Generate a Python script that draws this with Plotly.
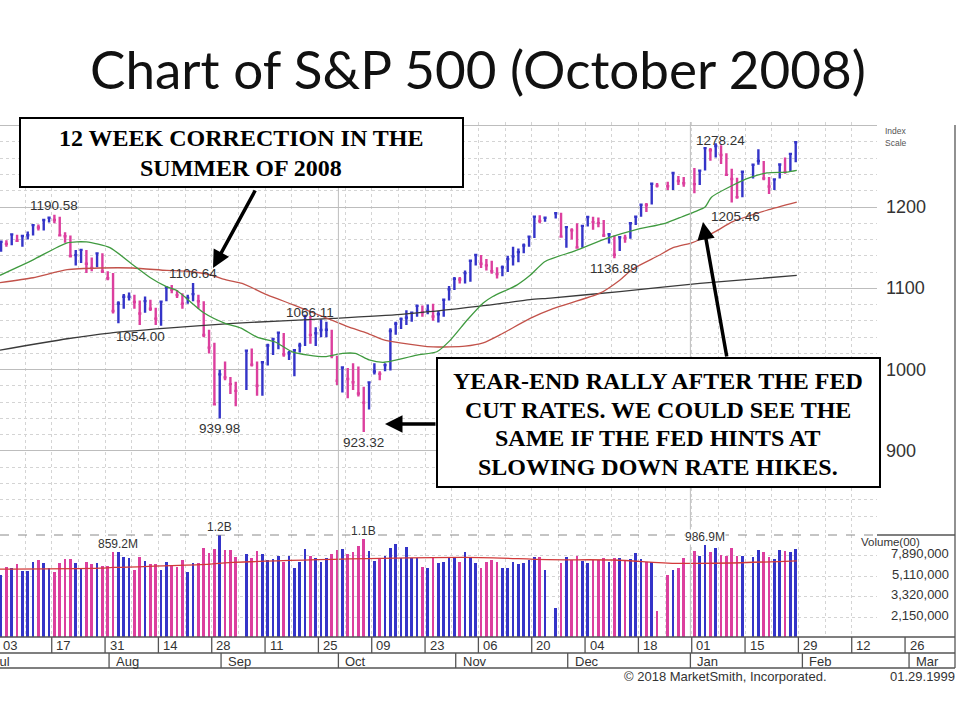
import numpy as np
import pandas as pd
import plotly.graph_objects as go

W, H = 959, 709

# ---------------- data ----------------
HOLIDAYS = ["1998-09-07", "1998-11-26", "1998-12-25", "1999-01-01", "1999-01-18"]
DATES = [d for d in pd.bdate_range("1998-07-06", "1999-01-29")
         if d.strftime("%Y-%m-%d") not in HOLIDAYS]

HIGH = [1157.5, 1159, 1166.5, 1166, 1166, 1170, 1178, 1178.5, 1185, 1188,
        1190.58, 1188, 1169, 1165, 1147, 1148, 1147, 1138, 1143, 1143,
        1121, 1119, 1084, 1093, 1095, 1092, 1085, 1090, 1086, 1076,
        1084, 1102, 1104, 1098, 1094, 1092, 1106.64, 1092, 1084, 1049,
        1033, 1000, 1010, 991, 985, 1023.5, 1026, 1010, 1009.5, 1032,
        1038, 1046, 1045, 1023, 1025, 1033, 1066.11, 1066, 1052, 1062,
        1059, 1049, 1017, 1003, 1002, 1008, 1004, 979, 985, 1008,
        998, 1008, 1051, 1059, 1064, 1073, 1071, 1080, 1079, 1080,
        1081, 1072, 1086.5, 1103, 1114, 1114, 1122, 1134, 1142, 1141,
        1136, 1134, 1126, 1128, 1140, 1151, 1149, 1155, 1164, 1188.5,
        1190, 1188, 1193, 1193, 1176, 1174, 1180, 1177, 1189, 1188,
        1187, 1184, 1168, 1165, 1163, 1166, 1180.5, 1188.5, 1203.5, 1205,
        1229, 1229.5, 1231, 1242, 1238, 1237, 1248, 1246, 1273, 1272.5,
        1278.24, 1276, 1266, 1247, 1236, 1244, 1253, 1271, 1256.5, 1237,
        1234.5, 1253, 1261, 1266, 1280]
LOW = [1145, 1151, 1153, 1157, 1151, 1160, 1165, 1171, 1171, 1181,
       1180, 1164, 1156, 1138, 1128, 1131, 1119, 1121, 1126, 1119,
       1110, 1069, 1057, 1075, 1085, 1075, 1055, 1070, 1072, 1055,
       1054.00, 1084, 1094, 1088, 1075, 1081, 1084, 1075, 1040, 1020,
       957, 939.98, 987, 970, 955, 975, 1004, 968, 968, 1005,
       1018, 1025, 1016, 1012, 992, 1021, 1029, 1032, 1029, 1040,
       1040, 1014, 981, 972, 965, 975, 967, 923.32, 951, 994,
       987, 998, 999, 1043, 1050, 1055, 1059, 1065, 1065, 1068,
       1060, 1058, 1065, 1085, 1098, 1106, 1106, 1108, 1128, 1125,
       1122, 1118, 1112, 1115, 1120, 1128, 1132, 1143, 1151, 1162,
       1180, 1182, 1186, 1163, 1150, 1160, 1149, 1150, 1176, 1172,
       1175, 1163, 1155, 1136.89, 1146, 1156, 1161, 1178, 1188, 1194,
       1203, 1224, 1221, 1221, 1227, 1225, 1217, 1227, 1245, 1257,
       1261, 1253, 1238, 1205.46, 1210, 1212, 1235, 1252, 1233, 1216,
       1221, 1235, 1241, 1244, 1255]
CLOSE = [1157.33, 1154.66, 1166.38, 1158.56, 1164.33, 1165.19, 1177.69, 1174.81, 1183.99, 1186.75,
         1184.10, 1165.07, 1164.08, 1139.75, 1140.80, 1147.27, 1130.24, 1125.21, 1142.95, 1120.67,
         1112.44, 1072.12, 1081.43, 1089.63, 1089.70, 1083.14, 1068.98, 1084.22, 1074.91, 1062.75,
         1083.67, 1101.20, 1098.06, 1091.60, 1081.24, 1088.14, 1092.85, 1084.19, 1042.59, 1027.14,
         957.28, 994.26, 990.47, 982.26, 973.89, 1023.46, 1006.20, 980.19, 1009.06, 1029.72,
         1037.68, 1045.48, 1018.87, 1020.09, 1023.89, 1029.63, 1066.09, 1042.72, 1044.75, 1048.69,
         1049.02, 1017.01, 986.39, 1002.60, 988.56, 984.59, 970.68, 959.44, 984.39, 997.71,
         994.80, 1005.53, 1047.49, 1056.42, 1062.39, 1063.93, 1069.92, 1078.48, 1070.67, 1072.32,
         1065.34, 1068.09, 1085.93, 1098.67, 1111.60, 1110.84, 1118.67, 1133.85, 1141.01, 1130.20,
         1128.26, 1120.97, 1117.69, 1125.72, 1135.87, 1139.32, 1144.48, 1152.61, 1163.55, 1188.21,
         1182.99, 1186.87, 1192.33, 1163.63, 1175.28, 1171.25, 1150.14, 1176.74, 1187.70, 1181.38,
         1180.20, 1165.02, 1166.46, 1141.20, 1162.83, 1161.94, 1179.98, 1188.03, 1202.84, 1202.50,
         1228.54, 1226.27, 1225.49, 1241.81, 1231.93, 1229.23, 1228.10, 1244.78, 1272.34, 1269.73,
         1275.09, 1263.88, 1239.51, 1234.40, 1212.19, 1243.26, 1252.00, 1256.62, 1235.16, 1225.19,
         1233.98, 1252.31, 1243.17, 1265.37, 1279.64]
VOLUME_M = [524, 625, 603, 656, 570, 570, 694, 719, 680, 612,
            562, 670, 734, 734, 680, 612, 694, 656, 680, 634,
            634, 844, 859.2, 760, 744, 582, 760, 704, 661, 656,
            582, 694, 634, 625, 719, 554, 670, 670, 930, 827,
            904, 1216, 886, 886, 770, 810, 744, 868, 810, 719,
            729, 787, 694, 787, 603, 694, 899, 781, 744, 694,
            744, 810, 886, 899, 810, 844, 971, 1108, 874, 704,
            734, 781, 930, 999, 744, 950, 744, 744, 625, 603,
            770, 680, 694, 770, 754, 694, 856, 770, 680, 603,
            694, 719, 694, 603, 612, 694, 656, 670, 719, 770,
            770, 582, 261, 680, 770, 719, 787, 704, 670, 719,
            719, 754, 685, 744, 754, 719, 734, 827, 729, 685,
            694, 247, 524, 582, 603, 744, 868, 781, 986.9, 856,
            930, 798, 787, 930, 787, 787, 770, 886, 856, 770,
            729, 886, 874, 844, 904]

# moving averages (trading-day position, value)
MA_FAST_X = [4.8, 11, 17.4, 21, 25.4, 29.7, 33, 36, 38, 43, 47, 50, 53, 56.4, 59.6, 62.6,
             65.7, 69, 71.4, 74, 76.6, 78.5, 83, 86.7, 89.2, 92.4, 95.4, 97.2, 101.7, 104.2,
             107, 112.6, 118.8, 123.9, 129.5, 132.7, 135, 137, 138.2, 142.3, 145.4, 148.6,
             152.4, 154.2]
MA_FAST_Y = [1116, 1135, 1156, 1157, 1150, 1129, 1113, 1102, 1097, 1070, 1057, 1051, 1040, 1034,
             1022, 1018, 1016, 1020, 1020, 1012, 1009, 1011, 1018, 1022, 1036, 1061, 1082, 1090,
             1104, 1116, 1133, 1146, 1162, 1172, 1180, 1188, 1194, 1200, 1212, 1227, 1236,
             1242, 1243, 1245]
MA_MID_X = [4.8, 11, 17.4, 23.6, 29.7, 36.1, 40, 44, 47.4, 50.2, 54.9, 59.7, 63.5, 67, 70,
            73.6, 76.6, 79.8, 86, 92, 95.4, 98.6, 104.2, 108.5, 117.3, 121, 123.5, 128.2,
            131, 134.5, 136, 139, 142.2, 148.6, 154.2]
MA_MID_Y = [1107, 1113, 1123, 1125, 1125, 1122, 1121, 1117, 1110, 1106, 1092, 1080, 1070, 1061,
            1053, 1045, 1037, 1033, 1028, 1029, 1033, 1043, 1063, 1075, 1094, 1110, 1124, 1140,
            1150, 1156, 1160, 1170, 1182, 1196, 1206]
MA_SLOW_X = [4.8, 17.4, 25.4, 36.1, 48.5, 67.2, 80, 94.8, 104.2, 108, 121, 136, 154.2]
MA_SLOW_Y = [1024, 1038, 1045, 1051, 1057, 1063, 1068, 1078, 1086, 1088, 1096, 1106, 1116]
VOL_MA_X = [4.8, 23.6, 26, 42.3, 48.5, 73.6, 94.8, 107.4, 119.8, 132.3, 154.2]
VOL_MA_Y = [595, 607, 615, 652, 683, 740, 757, 724, 719, 670, 706]

PRICE_TICKS = [1200, 1100, 1000, 900]
VOL_TICKS = [789, 511, 332, 215]
VOL_TICK_TEXT = ["7,890,000", "5,110,000", "3,320,000", "2,150,000"]
WEEK_LABELS = ["03", "17", "31", "14", "28", "11", "25", "09", "23",
               "06", "20", "04", "18", "01", "15", "29", "12", "26"]
MONTH_LABELS = ["Jul", "Aug", "Sep", "Oct", "Nov", "Dec", "Jan", "Feb", "Mar"]
MONTH_STARTS = ["1998-07-01", "1998-08-03", "1998-09-01", "1998-10-01", "1998-11-02",
                "1998-12-01", "1999-01-01", "1999-02-01", "1999-03-01"]

PRICE_LABELS = [  # text, date, value, side
    ("1190.58", "1998-07-20", 1190.58, "top"),
    ("1106.64", "1998-08-25", 1106.64, "top"),
    ("1054.00", "1998-08-17", 1054.00, "bottom"),
    ("939.98", "1998-09-01", 939.98, "bottom"),
    ("1066.11", "1998-09-23", 1066.11, "mid"),
    ("923.32", "1998-10-08", 923.32, "bottom"),
    ("1136.89", "1998-12-14", 1136.89, "bottom"),
    ("1278.24", "1999-01-08", 1278.24, "mid"),
    ("1205.46", "1999-01-13", 1205.46, "bottom"),
]
VOL_LABELS = [("1.2B", "1998-09-01"), ("859.2M", "1998-08-05"),
              ("1.1B", "1998-10-08"), ("986.9M", "1999-01-06")]

# ---------------- geometry helpers ----------------
ORIGIN = np.datetime64("1998-06-29")


def day_index(d):
    return int(np.busday_count(ORIGIN, np.datetime64(pd.Timestamp(d).date())))


X_IDX = [day_index(d) for d in DATES]
PLOT_R = 877          # right edge of plotting area (px)
X0, X1 = 4.8, 169.24  # visible index range
PRICE_TOP, PRICE_BOT = 122, 533
VOL_TOP, VOL_BOT = 535, 637
P_MIN = 1200 - (PRICE_BOT - 207) / 0.8133
P_MAX = 1200 + (207 - PRICE_TOP) / 0.8133
V_MIN, V_MAX = 143.4, 1214


def px(d):
    return (d - X0) / (X1 - X0) * PLOT_R


def fx(pxv):
    return pxv / W


def fy(pyv):
    return 1 - pyv / H


BLUE = "#3434c8"
PINK = "#dc3f9e"

up = [True] + [CLOSE[i] >= CLOSE[i - 1] for i in range(1, len(CLOSE))]
colors = [BLUE if u else PINK for u in up]

fig = go.Figure()

for flag, col in ((True, BLUE), (False, PINK)):
    idx = [i for i, u in enumerate(up) if u == flag]
    fig.add_trace(go.Ohlc(
        x=[X_IDX[i] for i in idx],
        open=[CLOSE[i] for i in idx], high=[HIGH[i] for i in idx],
        low=[LOW[i] for i in idx], close=[CLOSE[i] for i in idx],
        increasing=dict(line=dict(color=col, width=2.4)),
        decreasing=dict(line=dict(color=col, width=2.4)),
        tickwidth=0.3, xaxis="x", yaxis="y", showlegend=False, hoverinfo="skip"))

for xs, ys, col in ((MA_SLOW_X, MA_SLOW_Y, "#3a3a3a"),
                    (MA_MID_X, MA_MID_Y, "#c2524a"),
                    (MA_FAST_X, MA_FAST_Y, "#3f9a3f")):
    fig.add_trace(go.Scatter(x=xs, y=ys, mode="lines",
                             line=dict(color=col, width=1.3, shape="spline", smoothing=0.6),
                             xaxis="x", yaxis="y", showlegend=False, hoverinfo="skip"))

fig.add_trace(go.Bar(x=X_IDX, y=VOLUME_M, marker=dict(color=colors, line=dict(width=0)),
                     width=0.48, xaxis="x2", yaxis="y2", showlegend=False, hoverinfo="skip"))
fig.add_trace(go.Scatter(x=VOL_MA_X, y=VOL_MA_Y, mode="lines",
                         line=dict(color="#d23a3a", width=1.3, shape="spline"),
                         xaxis="x2", yaxis="y2", showlegend=False, hoverinfo="skip"))

# week boundaries (end of each Friday)
fridays = pd.date_range("1998-07-03", "1999-02-26", freq="7D")
week_pos = [day_index(f) + 0.5 for f in fridays]
label_fridays = fridays[::2]
label_pos = [day_index(f) + 0.5 for f in label_fridays]
month_pos = [day_index(m) + 0.25 for m in MONTH_STARTS]

grid_dot = "#d4d4d4"
xcommon = dict(range=[X0, X1], domain=[0, PLOT_R / W], showticklabels=False,
               tickmode="array", tickvals=week_pos, ticks="", showgrid=True,
               gridcolor=grid_dot, griddash="dot", gridwidth=1, zeroline=False,
               showline=False)
fig.update_layout(
    width=W, height=H, margin=dict(l=0, r=0, t=0, b=0),
    paper_bgcolor="white", plot_bgcolor="white", bargap=0,
    xaxis=dict(**xcommon, anchor="y", rangeslider=dict(visible=False)),
    xaxis2=dict(**xcommon, anchor="y2", matches="x"),
    yaxis=dict(domain=[fy(PRICE_BOT), fy(PRICE_TOP)], range=[P_MIN, P_MAX],
               showticklabels=False, ticks="", tick0=0, dtick=100,
               showgrid=True, gridcolor="#bdbdbd", gridwidth=1, zeroline=False,
               minor=dict(dtick=20, showgrid=True, gridcolor=grid_dot, griddash="dot")),
    yaxis2=dict(domain=[fy(VOL_BOT), fy(VOL_TOP)], type="log",
                range=[np.log10(V_MIN), np.log10(V_MAX)], showticklabels=False,
                ticks="", tickmode="array", tickvals=VOL_TICKS, showgrid=True,
                gridcolor=grid_dot, griddash="dot", zeroline=False),
    font=dict(family="Liberation Sans, Arial, sans-serif", color="#333"),
)

shapes = []
ann = []
LINE = "#555555"


def hline(y, x0, x1, color=LINE, width=1.3, dash="solid"):
    shapes.append(dict(type="line", xref="paper", yref="paper", x0=fx(x0), x1=fx(x1),
                       y0=fy(y), y1=fy(y), line=dict(color=color, width=width, dash=dash)))


def vline(x, y0, y1, color=LINE, width=1.3):
    shapes.append(dict(type="line", xref="paper", yref="paper", x0=fx(x), x1=fx(x),
                       y0=fy(y0), y1=fy(y1), line=dict(color=color, width=width)))


def text(xp, yp, t, size, xanchor="left", color="#333", **kw):
    d = dict(x=fx(xp), y=fy(yp), xref="paper", yref="paper", text=t, showarrow=False,
             xanchor=xanchor, yanchor="middle", font=dict(size=size, color=color))
    d.update(kw)
    ann.append(d)


# quarter lines inside panels
for m in (MONTH_STARTS[3], MONTH_STARTS[6]):
    xm = px(day_index(m) + 0.25)
    vline(xm, PRICE_TOP, VOL_BOT, color="#bdbdbd", width=1)

# panel separators and frame
hline(VOL_TOP, 0, PLOT_R, color="#8a8a8a", width=1, dash="dash")
hline(VOL_TOP, PLOT_R, 955, color=LINE)
hline(637, 0, 955)
hline(653, 0, 955)
hline(668, 0, 955)
vline(955, 125, 668)
for p in label_pos:
    vline(px(p), 637, 653)
for m in month_pos:
    vline(px(m), 653, 668)

# week / month labels
for t, p in zip(WEEK_LABELS, label_pos):
    text(px(p) + 2.5, 645.5, t, 13)
for t, m in zip(MONTH_LABELS, month_pos):
    text(px(m) + 5, 661, t, 13)

# price scale
for v in PRICE_TICKS:
    ann.append(dict(x=fx(884), y=v, xref="paper", yref="y", text=str(v), showarrow=False,
                    xanchor="left", yanchor="middle", font=dict(size=18, color="#333")))
text(883, 131, "Index", 8.5, color="#555")
text(883, 143, "Scale", 8.5, color="#555")

# volume scale
text(859, 542, "Volume(00)", 11.5)
for v, t in zip(VOL_TICKS, VOL_TICK_TEXT):
    ann.append(dict(x=fx(951), y=np.log10(v), xref="paper", yref="y2", text=t,
                    showarrow=False, xanchor="right", yanchor="middle", yshift=2,
                    font=dict(size=13, color="#333")))

# price labels
for t, d, v, side in PRICE_LABELS:
    xi = day_index(d)
    if side == "top":
        a = dict(yanchor="bottom", yshift=0, xshift=0)
    elif side == "bottom":
        a = dict(yanchor="top", yshift=-1, xshift=0)
    else:
        a = dict(yanchor="middle", yshift=3, xshift=5)
    if t == "1054.00":
        a["xshift"] = -21
    if t == "1205.46":
        a["xshift"] = 4
        a["yshift"] = -4
    ann.append(dict(x=xi, y=v, xref="x", yref="y", text=t, showarrow=False,
                    xanchor="center", font=dict(size=13.5, color="#333"), **a))

# volume labels
for t, d in VOL_LABELS:
    xi = day_index(d)
    v = VOLUME_M[X_IDX.index(xi)]
    ann.append(dict(x=xi, y=np.log10(min(v, V_MAX)), xref="x2", yref="y2", text=t,
                    showarrow=False, xanchor="center", yanchor="bottom", yshift=0,
                    bgcolor="white", borderpad=0, font=dict(size=12, color="#333")))

# copyright
text(829, 676, "\u00a9 2018 MarketSmith, Incorporated.", 13, xanchor="right")
text(957, 676, "01.29.1999", 13, xanchor="right")

# title
text(478, 69, "Chart of S&P 500 (October 2008)", 53, xanchor="center", color="#111",
     font=dict(family="Lato, Carlito, sans-serif", size=53, color="#111"))

# call-out boxes
SERIF = "Liberation Serif, Times New Roman, serif"
shapes.append(dict(type="rect", xref="paper", yref="paper", x0=fx(20), x1=fx(463),
                   y0=fy(187), y1=fy(118), line=dict(color="black", width=2),
                   fillcolor="white"))
shapes.append(dict(type="rect", xref="paper", yref="paper", x0=fx(437), x1=fx(880),
                   y0=fy(487), y1=fy(358), line=dict(color="black", width=2),
                   fillcolor="white"))
BOX1 = ["12 WEEK CORRECTION IN THE", "SUMMER OF 2008"]
BOX2 = ["YEAR-END RALLY AFTER THE FED", "CUT RATES. WE COULD SEE THE",
        "SAME IF THE FED HINTS AT", "SLOWING DOWN RATE HIKES."]
for i, t in enumerate(BOX1):
    text(241, 138 + 30 * i, "<b>%s</b>" % t, 24, xanchor="center",
         font=dict(family=SERIF, size=24, color="black"))
for i, t in enumerate(BOX2):
    text(658, 381 + 28.7 * i, "<b>%s</b>" % t, 24, xanchor="center",
         font=dict(family=SERIF, size=24, color="black"))

# arrows (head, tail) in px
for (hx, hy), (tx, ty) in (((213, 268), (256, 189)), ((703, 222), (727, 358)),
                           ((385, 424), (437, 424))):
    ann.append(dict(x=fx(hx), y=fy(hy), xref="paper", yref="paper", text="",
                    showarrow=True, ax=tx - hx, ay=ty - hy, arrowhead=2,
                    arrowsize=1.0, arrowwidth=3.5, arrowcolor="black"))

fig.update_layout(shapes=shapes, annotations=ann)
fig.write_html("out.html")
